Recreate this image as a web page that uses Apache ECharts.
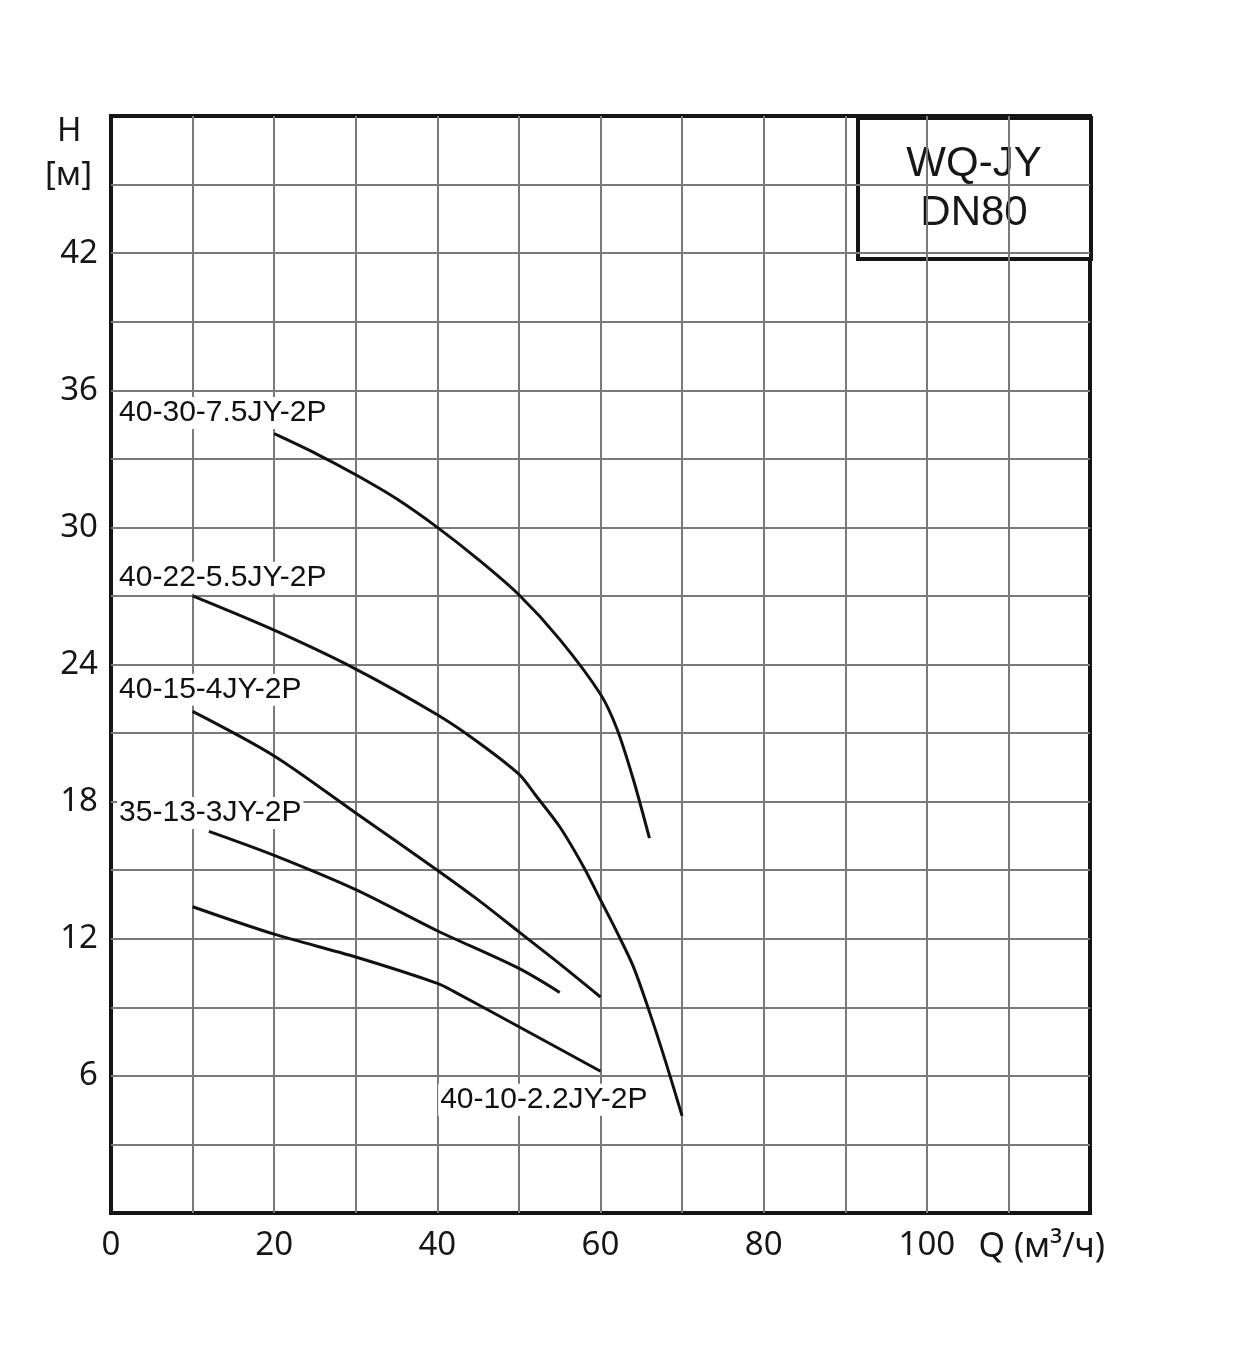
<!DOCTYPE html>
<html>
<head>
<meta charset="utf-8">
<script src="https://cdn.jsdelivr.net/npm/echarts@6/dist/echarts.min.js"></script>
<style>
  html, body { margin: 0; background: #fff; }
  #main { width: 1240px; height: 1359px; }
</style>
</head>
<body>
<div id="main"></div>
<script>
// pump curves: flow Q (m3/h) and head H (m)
const q75 = [20, 25, 30, 35, 40, 45, 50, 55, 60, 62, 64, 66];
const h75 = [34.1, 33.25, 32.3, 31.25, 30.0, 28.6, 27.05, 25.1, 22.7, 21.2, 19.0, 16.4];

const q55 = [10, 20, 30, 40, 45, 50, 52, 55, 58, 60, 62, 64, 66, 68, 70];
const h55 = [27.0, 25.5, 23.8, 21.8, 20.6, 19.2, 18.3, 16.9, 15.1, 13.7, 12.3, 10.8, 8.8, 6.6, 4.25];

const q4 = [10, 20, 30, 40, 45, 50, 55, 60];
const h4 = [21.95, 20.0, 17.5, 15.0, 13.7, 12.3, 10.9, 9.45];

const q3 = [12, 20, 30, 40, 50, 55];
const h3 = [16.7, 15.65, 14.15, 12.35, 10.7, 9.65];

const q22 = [10, 20, 30, 40, 42, 50, 60];
const h22 = [13.4, 12.2, 11.2, 10.05, 9.7, 8.15, 6.2];

const curveNames = ['40-30-7.5JY-2P', '40-22-5.5JY-2P', '40-15-4JY-2P', '35-13-3JY-2P', '40-10-2.2JY-2P'];
// where each curve's caption sits, in axis units (left edge, vertical middle)
const captionAt = [[0.75, 35.0], [0.75, 27.8], [0.75, 22.9], [0.75, 17.5], [40.1, 4.95]];

const xTicks = [0, 20, 40, 60, 80, 100];
const yTicks = [6, 12, 18, 24, 30, 36, 42];

const flows = [q75, q55, q4, q3, q22];
const heads = [h75, h55, h4, h3, h22];

const axisFont = '"Noto Sans", sans-serif';
const textFont = '"Liberation Sans", Arial, sans-serif';

const chart = echarts.init(document.getElementById('main'));

const series = curveNames.map((name, i) => ({
  name: name,
  type: 'line',
  data: flows[i].map((q, k) => [q, heads[i][k]]),
  symbol: 'none',
  smooth: 0.3,
  lineStyle: { color: '#111', width: 3 },
  markPoint: {
    symbol: 'circle',
    symbolSize: 0,
    data: [{ coord: captionAt[i] }],
    label: {
      show: true,
      position: 'inside',
      align: 'left',
      verticalAlign: 'middle',
      formatter: name,
      color: '#111',
      fontFamily: textFont,
      fontSize: 30,
      backgroundColor: '#fff',
      padding: [1, 2]
    },
    z: 5
  }
}));

chart.setOption({
  animation: false,
  backgroundColor: '#fff',
  grid: {
    left: 111, right: 150, top: 116, bottom: 146,
    show: true,
    borderColor: '#151515',
    borderWidth: 4,
    backgroundColor: 'transparent'
  },
  xAxis: {
    type: 'value',
    min: 0, max: 120, interval: 10,
    axisLine: { show: false },
    axisTick: { show: false },
    splitLine: { show: true, showMinLine: false, showMaxLine: false, lineStyle: { color: '#7a7a7a', width: 2 } },
    axisLabel: {
      margin: 16,
      color: '#161616',
      fontFamily: axisFont,
      fontSize: 33,
      formatter: v => xTicks.includes(v) ? String(v) : ''
    },
    name: 'Q (м³/ч)',
    nameLocation: 'end',
    nameGap: 15,
    nameTextStyle: {
      align: 'right',
      verticalAlign: 'top',
      padding: [17, 0, 0, 0],
      color: '#161616',
      fontFamily: axisFont,
      fontSize: 34
    }
  },
  yAxis: {
    type: 'value',
    min: 0, max: 48, interval: 3,
    axisLine: { show: false },
    axisTick: { show: false },
    splitLine: { show: true, showMinLine: false, showMaxLine: false, lineStyle: { color: '#7a7a7a', width: 2 } },
    axisLabel: {
      margin: 13,
      color: '#161616',
      fontFamily: axisFont,
      fontSize: 33,
      formatter: v => yTicks.includes(v) ? String(v) : ''
    }
  },
  graphic: [
    {
      type: 'text', left: 57, top: 115, z: 10,
      style: { text: 'H', fontFamily: axisFont, fontSize: 33, fill: '#161616' }
    },
    {
      type: 'text', left: 45, top: 159, z: 10,
      style: { text: '[м]', fontFamily: axisFont, fontSize: 33, fill: '#161616' }
    },
    {
      type: 'group', left: 856, top: 116, z: 10,
      children: [
        {
          type: 'rect',
          shape: { x: 0, y: 0, width: 233, height: 141 },
          style: { fill: '#fff', stroke: '#151515', lineWidth: 4 }
        },
        {
          type: 'text',
          x: 116, y: 71,
          style: {
            text: 'WQ-JY\nDN80',
            fontFamily: 'Liberation Sans',
            fontSize: 42,
            fill: '#161616',
            align: 'center',
            verticalAlign: 'middle',
            lineHeight: 49
          }
        }
      ]
    }
  ],
  series: series
});
</script>
</body>
</html>
